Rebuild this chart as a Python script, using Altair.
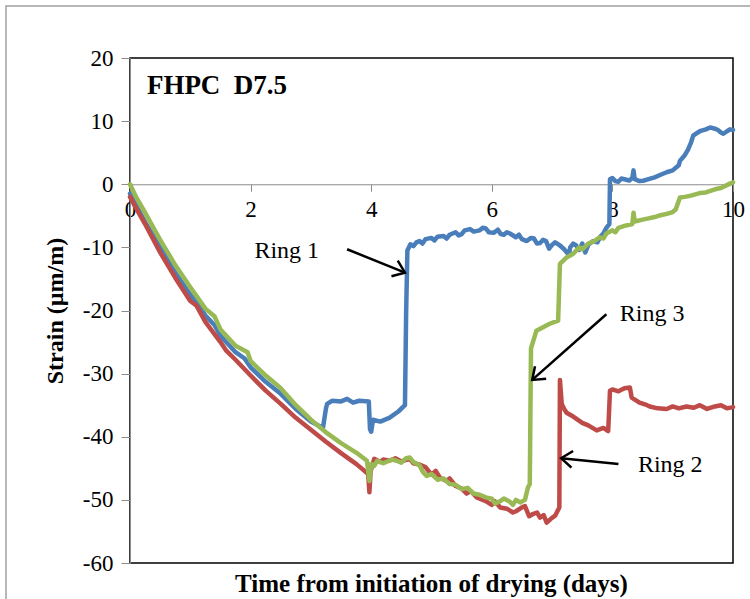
import math
import altair as alt
import pandas as pd

# ---- data ----
ring1_x = [0.0, 0.1, 0.25, 0.5, 0.75, 1.0, 1.1, 1.25, 1.4, 1.5, 1.75, 1.9, 2.0, 2.25, 2.5,
           2.75, 3.0, 3.2, 3.25, 3.27, 3.35, 3.5, 3.6, 3.7, 3.8, 3.96, 3.98, 4.0, 4.03, 4.15,
           4.3, 4.45, 4.56, 4.58,
           4.60, 4.65, 4.7, 4.75, 4.8, 4.85, 4.9, 5.0, 5.05, 5.1, 5.2, 5.25, 5.3, 5.4, 5.45,
           5.5, 5.55, 5.64, 5.7, 5.8, 5.85, 5.9, 5.95, 6.03, 6.1, 6.15, 6.2, 6.25, 6.3, 6.4,
           6.45, 6.5, 6.58, 6.65, 6.7, 6.75, 6.8, 6.85, 6.9, 6.95, 7.0, 7.05, 7.13, 7.2,
           7.28, 7.3, 7.35, 7.4, 7.45, 7.5, 7.55, 7.6, 7.68, 7.75, 7.8, 7.85, 7.9, 7.95,
           7.96, 8.0, 8.05, 8.1, 8.15, 8.2, 8.28, 8.33, 8.35, 8.37, 8.45, 8.51, 8.6, 8.7,
           8.8, 8.9, 9.0, 9.05, 9.1, 9.12, 9.2, 9.25, 9.3, 9.34, 9.4, 9.45, 9.55, 9.62, 9.7,
           9.75, 9.8, 9.84, 9.9, 9.95, 10.0]
ring1_y = [-1.5, -3.3, -6.0, -10.0, -14.0, -17.5, -18.6, -20.8, -22.3, -24.0, -26.6, -27.6,
           -29.0, -31.3, -33.2, -35.6, -37.6, -38.6, -35.5, -34.8, -34.3, -34.4, -34.0,
           -34.6, -34.3, -34.4, -38.8, -39.2, -37.3, -37.6, -37.0, -36.0, -35.0, -20.0,
           -10.5, -9.5, -9.8, -9.2, -9.0, -9.4, -8.7, -8.5, -8.9, -8.3, -8.2, -8.6, -8.0,
           -7.6, -8.1, -7.9, -7.3, -7.1, -7.5, -7.3, -6.9, -7.0, -7.6, -7.7, -7.2, -7.9,
           -8.0, -7.6, -7.8, -8.4, -8.0, -8.7, -9.0, -8.5, -8.6, -9.4, -9.3, -8.8, -9.0,
           -10.2, -9.6, -9.2, -9.7, -10.3, -11.2, -10.0, -9.4, -9.7, -10.4, -9.4, -10.8,
           -9.6, -9.0, -9.2, -8.3, -7.8, -6.9, -6.3,
           0.8, 1.0, 0.5, 0.4, 0.9, 0.8, 0.6, 1.0, 2.2, 0.8, 0.5, 0.55, 0.8, 1.1, 1.5, 1.9,
           2.2, 2.6, 3.0, 3.7, 4.6, 5.4, 6.5, 7.7, 8.1, 8.4, 8.7, 9.0, 8.8, 8.6, 8.2, 8.0,
           8.4, 8.7, 8.6]

ring2_x = [0.0, 0.1, 0.25, 0.5, 0.75, 1.0, 1.1, 1.25, 1.5, 1.6, 1.75, 2.0, 2.25, 2.5, 2.75,
           3.0, 3.25, 3.5, 3.75, 3.95, 3.97,
           3.99, 4.05, 4.15, 4.2, 4.3, 4.4, 4.5, 4.64, 4.7, 4.8, 4.9, 5.0, 5.07, 5.14, 5.25,
           5.3, 5.4, 5.5, 5.58, 5.65, 5.75, 5.9, 6.0, 6.05, 6.14, 6.25, 6.35, 6.4, 6.5, 6.55,
           6.62, 6.69, 6.75, 6.8, 6.86, 6.91, 6.98, 7.05, 7.12,
           7.13, 7.16, 7.2, 7.24, 7.35, 7.5, 7.6, 7.74, 7.85, 7.93, 7.96, 8.0, 8.1, 8.2,
           8.29, 8.32, 8.45, 8.55, 8.62, 8.75, 8.9, 9.0, 9.1, 9.23, 9.35, 9.45, 9.57, 9.7,
           9.8, 9.9, 10.0]
ring2_y = [-2.0, -3.8, -6.3, -10.8, -14.8, -18.5, -19.2, -21.8, -25.0, -26.4, -27.8, -30.3,
           -32.7, -34.8, -37.0, -38.9, -40.8, -42.6, -44.3, -45.9, -48.8,
           -45.5, -43.5, -44.0, -43.6, -43.8, -43.4, -43.9, -43.5, -44.2, -44.4, -44.8,
           -46.0, -45.4, -46.5, -47.0, -46.6, -47.8, -48.2, -49.0, -48.6, -49.6, -50.2,
           -50.8, -50.2, -51.2, -51.4, -52.0, -51.8, -51.2, -51.0, -52.6, -52.2, -52.0,
           -52.8, -52.4, -53.6, -53.0, -52.5, -51.2,
           -31.0, -34.8, -35.6, -36.2, -36.8, -37.8, -38.2, -39.0, -38.6, -39.1, -32.7,
           -32.5, -32.8, -32.3, -32.2, -33.8, -34.6, -34.9, -35.2, -35.5, -35.6, -35.2,
           -35.5, -35.2, -35.4, -35.0, -35.6, -35.2, -35.0, -35.5, -35.3]

ring3_x = [0.0, 0.1, 0.25, 0.5, 0.75, 1.0, 1.25, 1.4, 1.5, 1.75, 1.95, 2.0, 2.25, 2.5, 2.75,
           3.0, 3.25, 3.5, 3.75, 3.93, 3.97,
           4.0, 4.05, 4.1, 4.2, 4.25, 4.35, 4.42, 4.5, 4.58, 4.64, 4.7, 4.8, 4.86, 4.92, 5.0,
           5.1, 5.2, 5.3, 5.4, 5.5, 5.6, 5.69, 5.8, 5.9, 6.0, 6.05, 6.14, 6.2, 6.3, 6.35,
           6.4, 6.47, 6.55, 6.6, 6.63,
           6.65, 6.74, 6.96, 7.1,
           7.13, 7.24, 7.35, 7.45, 7.5, 7.6, 7.7, 7.79, 7.85, 7.9, 8.0, 8.05, 8.1, 8.2, 8.33,
           8.35, 8.37, 8.5, 8.6, 8.7, 8.8, 8.9, 9.0, 9.05, 9.12, 9.2, 9.3, 9.45, 9.55, 9.7,
           9.8, 9.95, 10.0]
ring3_y = [0.0, -2.0, -4.5, -8.8, -12.8, -16.3, -19.7, -20.9, -23.0, -25.6, -26.6, -28.0,
           -30.3, -32.3, -35.0, -37.3, -39.3, -41.0, -42.5, -43.8, -47.0,
           -44.3, -44.6, -43.8, -44.2, -44.0, -43.6, -43.8, -44.1, -43.4, -43.3, -44.0,
           -44.5, -45.6, -46.2, -45.9, -46.8, -46.6, -47.5, -47.6, -48.3, -48.1, -49.0,
           -49.2, -49.6, -49.8, -50.6, -50.2, -49.8, -50.3, -50.8, -50.0, -50.4, -50.0,
           -48.0, -47.5,
           -26.0, -23.2, -22.1, -21.6,
           -12.6, -11.6, -11.0, -10.0, -10.3, -9.4, -9.0, -8.4, -8.6, -7.8, -7.3, -7.6,
           -6.9, -6.6, -6.3, -4.5, -5.9, -5.6, -5.4, -5.2, -4.9, -4.7, -4.4, -4.0, -2.1,
           -2.0, -1.8, -1.4, -1.3, -0.8, -0.6, 0.1, 0.3]

series_names = ["Ring 1", "Ring 2", "Ring 3"]
series_colors = ["#4A7EBB", "#BE4B48", "#98B954"]

# annotations: label text, label position, arrow start -> arrow tip (data units)
ann_text = ["Ring 1", "Ring 3", "Ring 2"]
ann_tx = [2.6, 8.66, 8.96]
ann_ty = [-10.6, -20.6, -44.4]
arr_x1 = [3.6, 7.9, 8.1]
arr_y1 = [-10.3, -20.6, -44.3]
arr_x2 = [4.56, 6.67, 7.15]
arr_y2 = [-14.0, -31.0, -43.4]

panel_label = "FHPC\u00a0\u00a0D7.5"
x_ticks = [0, 2, 4, 6, 8, 10]
y_ticks = [20, 10, 0, -10, -20, -30, -40, -50, -60]
x_title = "Time from initiation of drying (days)"
y_title = "Strain (µm/m)"

# ---- layout ----
W, H = 603, 505
XMIN, XMAX, YMIN, YMAX = 0, 10, -60, 20
FONT = "Liberation Serif"

xs = alt.Scale(domain=[XMIN, XMAX], nice=False, zero=False)
ys = alt.Scale(domain=[YMIN, YMAX], nice=False, zero=False)

frames = []
for name, xx, yy in [("Ring 1", ring1_x, ring1_y), ("Ring 2", ring2_x, ring2_y),
                     ("Ring 3", ring3_x, ring3_y)]:
    frames.append(pd.DataFrame({"t": xx, "strain": yy, "ring": name, "i": range(len(xx))}))

zero_offset = -(H * (0 - YMIN) / (YMAX - YMIN))

x_axis = alt.Axis(values=x_ticks, title=None, grid=False, orient="bottom",
                  offset=zero_offset, domainColor="#8c8c8c", tickColor="#8c8c8c",
                  tickSize=7, labelFlush=False, labelFont=FONT, labelFontSize=23,
                  labelColor="black", labelPadding=7, labelExpr="datum.value + ''")
y_axis = alt.Axis(values=y_ticks, title=y_title, grid=False, domainColor="#8c8c8c",
                  tickColor="#8c8c8c", tickSize=9, labelFont=FONT, labelFontSize=23,
                  labelColor="black", labelPadding=8, labelExpr="datum.value + ''",
                  titleFont=FONT, titleFontSize=24,
                  titleFontWeight="bold", titleColor="black", titleX=-75, titleY=H / 2,
                  titleAngle=270, titleBaseline="middle", titleAlign="center")


def X(f):
    return alt.X(f, type="quantitative", scale=xs, axis=x_axis)


def Y(f):
    return alt.Y(f, type="quantitative", scale=ys, axis=y_axis)


layers = []
for k, df in enumerate(frames):
    layers.append(alt.Chart(df).mark_line(color=series_colors[k], strokeWidth=4.5,
                                          strokeJoin="round", strokeCap="round").encode(
        x=X("t"), y=Y("strain"), order="i:Q"))

ann = pd.DataFrame({"text": ann_text, "tx": ann_tx, "ty": ann_ty,
                    "x1": arr_x1, "y1": arr_y1, "x2": arr_x2, "y2": arr_y2})
# arrowhead rotation from screen-space direction
px_per_x = W / (XMAX - XMIN)
px_per_y = H / (YMAX - YMIN)
ann["ang"] = [
    (math.degrees(math.atan2(-(b2 - b1) * px_per_y, (a2 - a1) * px_per_x)) + 360) % 360
    for a1, b1, a2, b2 in zip(arr_x1, arr_y1, arr_x2, arr_y2)
]

texts = alt.Chart(ann).mark_text(font=FONT, fontSize=24, color="black",
                                 align="center", baseline="middle").encode(
    x=X("tx"), y=Y("ty"), text="text:N")
shafts = alt.Chart(ann).mark_rule(color="black", strokeWidth=2.5).encode(
    x=X("x1"), y=Y("y1"), x2="x2:Q", y2="y2:Q")
heads = alt.Chart(ann).mark_point(shape="M -1 -0.75 L 0 0 L -1 0.75", filled=False,
                                  color="black", strokeWidth=2.5, size=500,
                                  opacity=1).encode(
    x=X("x2"), y=Y("y2"), angle=alt.Angle("ang:Q", scale=None))

label_df = pd.DataFrame({"text": [panel_label], "x": [0.28], "y": [15.6]})
panel = alt.Chart(label_df).mark_text(font=FONT, fontSize=27, fontWeight="bold",
                                      color="black", align="left",
                                      baseline="middle").encode(
    x=X("x"), y=Y("y"), text="text:N")

xt_df = pd.DataFrame({"text": [x_title]})
xtitle = alt.Chart(xt_df).mark_text(font=FONT, fontSize=25, fontWeight="bold",
                                    color="black", align="center",
                                    baseline="middle").encode(
    x=alt.value(W / 2), y=alt.value(H + 21), text="text:N")

frame = alt.Chart(xt_df).mark_rect(fill=None, stroke="#a0a0a0", strokeWidth=1.5).encode(
    x=alt.value(-124), x2=alt.value(W + 40), y=alt.value(-52), y2=alt.value(H + 60))

chart = alt.layer(*layers, shafts, heads, texts, panel, xtitle, frame).properties(
    width=W, height=H, autosize="none",
    padding={"left": 130, "top": 58, "right": 17, "bottom": 36},
).configure_view(stroke="black", strokeWidth=1.5)

chart.save("out.html", embed_options={"renderer": "svg", "actions": False})
